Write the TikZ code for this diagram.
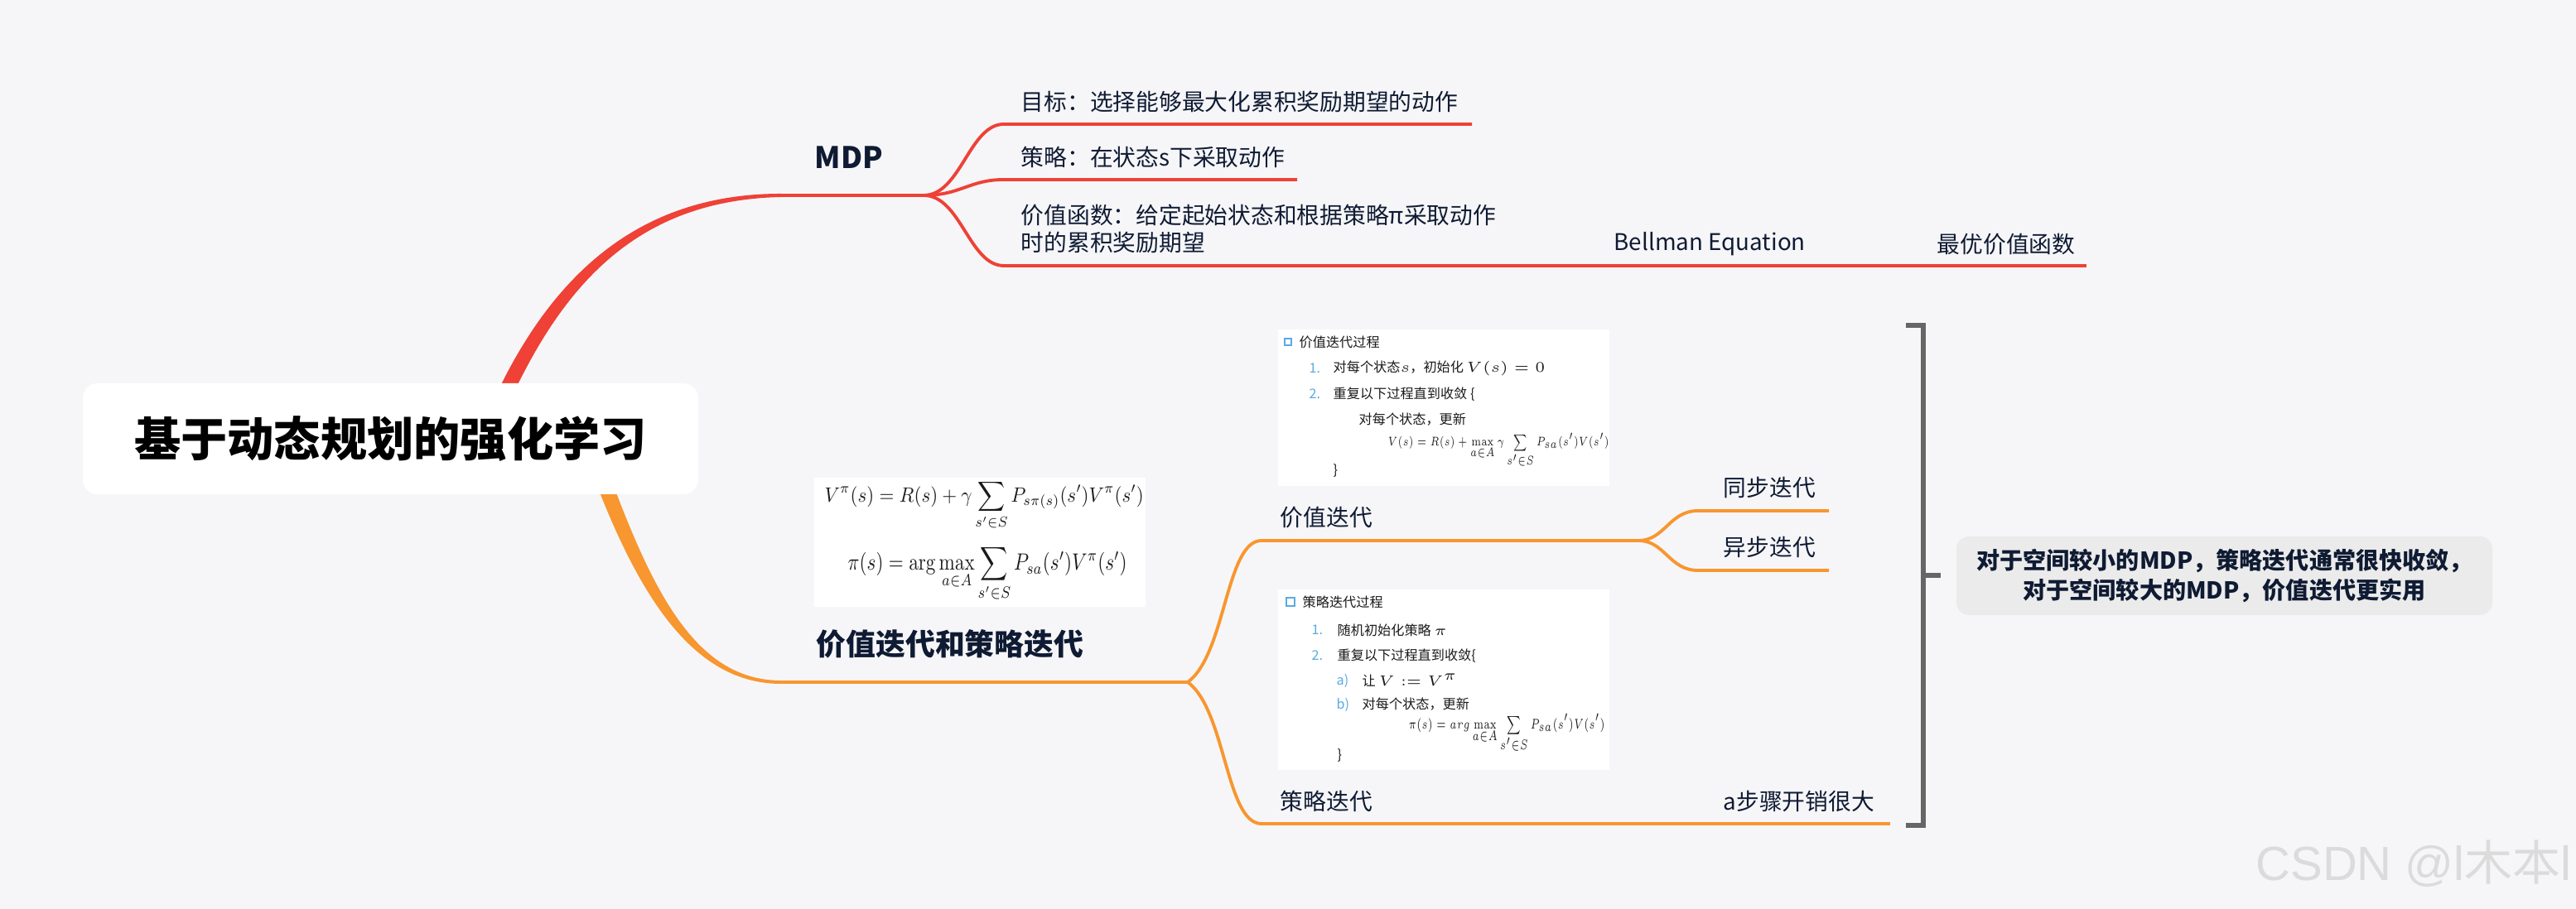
\documentclass[tikz,border=0pt]{standalone}
\usepackage[no-math]{fontspec}
\setmainfont{Noto Sans CJK SC}
\newfontfamily\markfont{Liberation Sans}
\usepackage{amsmath,amssymb}
\usepackage{graphicx}
\definecolor{paper}{HTML}{F6F6F8}
\definecolor{ink}{HTML}{0F1B33}
\definecolor{mdpred}{HTML}{EF4136}
\definecolor{iterorange}{HTML}{F8962F}
\definecolor{sumgray}{HTML}{EBEBEB}
\definecolor{bracegray}{HTML}{666666}
\definecolor{listblue}{HTML}{5AAAE0}
\definecolor{snapink}{HTML}{1A1A1A}

\begin{document}
\begin{tikzpicture}[
  topic/.style={anchor=west, inner sep=0pt, text=ink, align=left, font=\fontsize{7.9}{9.4}\selectfont},
  bigtopic/.style={anchor=west, inner sep=0pt, text=ink, font=\fontsize{10.2}{12}\selectfont\bfseries},
  redline/.style={draw=mdpred, line width=1.1pt},
  orline/.style={draw=iterorange, line width=1.1pt},
  snaptext/.style={anchor=west, inner sep=0pt, text=snapink, font=\fontsize{4.6}{5.5}\selectfont},
  snapnum/.style={snaptext, text=listblue},
  bracket/.style={draw=bracegray, line width=1.6pt}
]
  \fill[paper] (0,0) rectangle (31.10,10.98);
  \useasboundingbox (0,0) rectangle (31.10,10.98);

  % main branches, thick at the root
  \fill[mdpred] (5.80,5.78) .. controls (6.50,7.50) and (7.58,8.64) .. (9.43,8.64) -- (9.43,8.60) .. controls (7.62,8.56) and (6.70,7.46) .. (6.00,5.78) -- cycle;
  \fill[iterorange] (7.00,5.68) .. controls (7.60,3.96) and (8.28,2.72) .. (9.43,2.72) -- (9.43,2.76) .. controls (8.32,2.76) and (7.80,4.00) .. (7.20,5.68) -- cycle;

  \node[fill=white, rounded corners=0.18cm, minimum width=7.43cm, minimum height=1.34cm, text=black, font=\fontsize{16}{19}\selectfont\bfseries] (root) at (4.715,5.68) {基于动态规划的强化学习};

  % MDP
  \coordinate (mdpA) at (9.43,8.62);
  \coordinate (mdpB) at (11.15,8.62);
  \coordinate (goalA) at (12.12,9.48);
  \coordinate (goalB) at (17.77,9.48);
  \coordinate (polA) at (12.12,8.81);
  \coordinate (polB) at (15.66,8.81);
  \coordinate (valA) at (12.12,7.77);
  \coordinate (valB) at (18.28,7.77);
  \coordinate (bellA) at (19.32,7.77);
  \coordinate (bellB) at (22.16,7.77);
  \coordinate (optA) at (23.19,7.77);
  \coordinate (optB) at (25.19,7.77);
  \draw[redline] (mdpA) -- (mdpB);
  \draw[redline] (mdpB) .. controls (11.60,8.62) and (11.70,9.48) .. (goalA) -- (goalB);
  \draw[redline] (mdpB) .. controls (11.60,8.62) and (11.70,8.81) .. (polA) -- (polB);
  \draw[redline] (mdpB) .. controls (11.60,8.62) and (11.70,7.77) .. (valA) -- (valB);
  \draw[redline] (valB) -- (bellA) -- (bellB) -- (optA) -- (optB);
  \node[bigtopic] (mdp) at (9.83,9.08) {MDP};
  \node[topic] (goal) at (12.32,9.75) {目标：选择能够最大化累积奖励期望的动作};
  \node[topic] (pol) at (12.32,9.08) {策略：在状态s下采取动作};
  \node[topic] (val) at (12.32,8.215) {价值函数：给定起始状态和根据策略π采取动作\\时的累积奖励期望};
  \node[topic] (bell) at (19.48,8.03) {Bellman Equation};
  \node[topic] (opt) at (23.38,8.03) {最优价值函数};

  % value and policy iteration
  \coordinate (itA) at (9.42,2.74);
  \coordinate (itB) at (14.34,2.74);
  \coordinate (viA) at (15.23,4.45);
  \coordinate (viB) at (19.78,4.45);
  \coordinate (syncA) at (20.50,4.81);
  \coordinate (syncB) at (22.08,4.81);
  \coordinate (asyncA) at (20.50,4.09);
  \coordinate (asyncB) at (22.08,4.09);
  \coordinate (piA) at (15.23,1.03);
  \coordinate (piB) at (19.60,1.03);
  \coordinate (costA) at (20.63,1.03);
  \coordinate (costB) at (22.82,1.03);
  \draw[orline] (itA) -- (itB);
  \draw[orline] (itB) .. controls (14.80,3.08) and (14.80,4.45) .. (viA) -- (viB);
  \draw[orline] (itB) .. controls (14.80,2.40) and (14.80,1.03) .. (piA) -- (piB);
  \draw[orline] (viB) .. controls (20.10,4.45) and (20.15,4.81) .. (syncA) -- (syncB);
  \draw[orline] (viB) .. controls (20.10,4.45) and (20.15,4.09) .. (asyncA) -- (asyncB);
  \draw[orline] (piB) -- (costA) -- (costB);
  \node[bigtopic] (iter) at (9.85,3.20) {价值迭代和策略迭代};
  \node[topic] (vi) at (15.45,4.73) {价值迭代};
  \node[topic] (sync) at (20.80,5.09) {同步迭代};
  \node[topic] (async) at (20.80,4.37) {异步迭代};
  \node[topic] (pi) at (15.45,1.30) {策略迭代};
  \node[topic] (cost) at (20.80,1.30) {a步骤开销很大};

  % pictures attached to the topics
  \fill[white] (9.83,3.65) rectangle (13.83,5.21);
  \node[anchor=west, inner sep=0pt, text=snapink] (bellpi) at (9.95,4.88) {\resizebox*{3.85cm}{0.60cm}{$\displaystyle V^{\pi}(s)=R(s)+\gamma\sum_{s'\in S}P_{s\pi(s)}(s')V^{\pi}(s')$}};
  \node[anchor=west, inner sep=0pt, text=snapink] (greedy) at (10.23,4.05) {\resizebox*{3.37cm}{0.68cm}{$\displaystyle \pi(s)=\arg\max_{a\in A}\sum_{s'\in S}P_{sa}(s')V^{\pi}(s')$}};

  \fill[white] (15.43,5.11) rectangle (19.43,7.00);
  \draw[listblue, line width=0.5pt] (15.51,6.81) rectangle (15.59,6.89);
  \node[snaptext] (vtitle) at (15.68,6.85) {价值迭代过程};
  \node[snapnum] (v1) at (15.80,6.53) {1.};
  \node[snaptext] (v1t) at (16.09,6.53) {对每个状态$s$，初始化 $V(s)=0$};
  \node[snapnum] (v2) at (15.80,6.22) {2.};
  \node[snaptext] (v2t) at (16.09,6.22) {重复以下过程直到收敛 \{};
  \node[snaptext] (v3t) at (16.40,5.91) {对每个状态，更新};
  \node[snaptext] (vupd) at (16.75,5.54) {\resizebox*{2.67cm}{0.42cm}{$\displaystyle V(s)=R(s)+\max_{a\in A}\gamma\sum_{s'\in S}P_{sa}(s')V(s')$}};
  \node[snaptext] (vend) at (16.09,5.30) {\}};

  \fill[white] (15.43,1.68) rectangle (19.43,3.86);
  \draw[listblue, line width=0.5pt] (15.53,3.66) rectangle (15.63,3.76);
  \node[snaptext] (ptitle) at (15.72,3.71) {策略迭代过程};
  \node[snapnum] (p1) at (15.83,3.37) {1.};
  \node[snaptext] (p1t) at (16.14,3.37) {随机初始化策略 $\pi$};
  \node[snapnum] (p2) at (15.83,3.06) {2.};
  \node[snaptext] (p2t) at (16.14,3.06) {重复以下过程直到收敛\{};
  \node[snapnum] (pa) at (16.13,2.76) {a)};
  \node[snaptext] (pat) at (16.44,2.76) {让 $V := V^{\pi}$};
  \node[snapnum] (pb) at (16.13,2.47) {b)};
  \node[snaptext] (pbt) at (16.44,2.47) {对每个状态，更新};
  \node[snaptext] (pupd) at (17.00,2.12) {\resizebox*{2.37cm}{0.47cm}{$\displaystyle \pi(s)=arg\max_{a\in A}\sum_{s'\in S}P_{sa}(s')V(s')$}};
  \node[snaptext] (pend) at (16.14,1.86) {\}};

  % summary
  \coordinate (braceTop) at (23.22,7.05);
  \coordinate (braceBot) at (23.22,1.01);
  \coordinate (braceMid) at (23.22,4.03);
  \draw[bracket] (braceTop) ++(-0.21,0) -- (braceTop) -- (braceBot) -- ++(-0.21,0);
  \draw[bracket] (braceMid) -- ++(0.21,0);
  \node[fill=sumgray, rounded corners=0.15cm, minimum width=6.47cm, minimum height=0.95cm, align=center, text=ink, font=\fontsize{8}{10}\selectfont\bfseries] (summary) at (26.855,4.025) {对于空间较小的MDP，策略迭代通常很快收敛，\\对于空间较大的MDP，价值迭代更实用};

  \node[text=black!14, font=\fontsize{16.5}{18}\selectfont] (mark) at (29.14,0.55) {{\markfont CSDN @l}木本{\markfont l}};
\end{tikzpicture}
\end{document}
